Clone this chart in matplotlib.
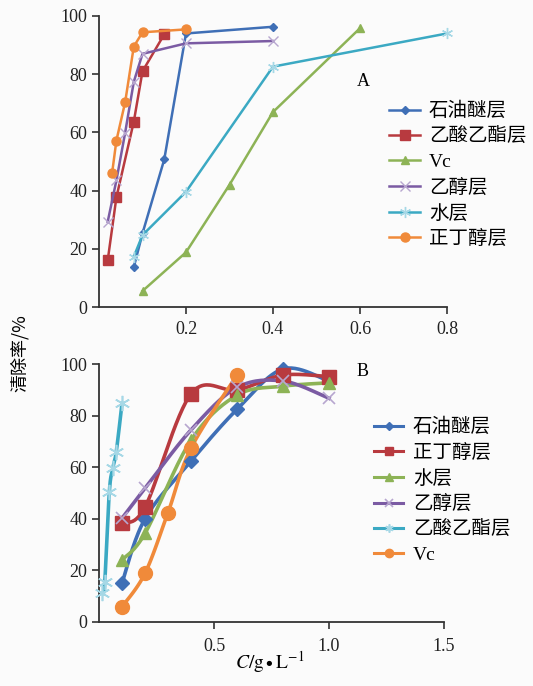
import numpy as np
import matplotlib
matplotlib.use("Agg")
import matplotlib.pyplot as plt
from matplotlib.lines import Line2D

plt.rcParams['font.family'] = ['Liberation Serif', 'Noto Sans CJK SC', 'DejaVu Sans']
plt.rcParams['mathtext.fontset'] = 'stix'

BLUE = '#3F6FB6'
RED = '#B83A3F'
GREEN = '#8DB356'
PURPLE = '#7B5BA3'
TEAL = '#3BA9C3'
ORANGE = '#F08A3A'

# ---------------- Panel A data ----------------
a_pet_x = [0.08, 0.10, 0.15, 0.20, 0.40]
a_pet_y = [13.7, 25.3, 50.7, 94.0, 96.3]
a_ea_x = [0.02, 0.04, 0.08, 0.10, 0.15]
a_ea_y = [16.0, 37.7, 63.7, 81.0, 93.7]
a_vc_x = [0.10, 0.20, 0.30, 0.40, 0.60]
a_vc_y = [5.5, 18.8, 42.0, 67.0, 95.8]
a_eth_x = [0.02, 0.04, 0.06, 0.08, 0.10, 0.20, 0.40]
a_eth_y = [29.3, 43.5, 59.8, 77.4, 87.0, 90.6, 91.4]
a_wat_x = [0.08, 0.10, 0.20, 0.40, 0.80]
a_wat_y = [17.3, 24.7, 39.6, 82.6, 94.0]
a_but_x = [0.03, 0.04, 0.06, 0.08, 0.10, 0.20]
a_but_y = [45.9, 57.2, 70.3, 89.5, 94.4, 95.4]
a_labels = ['石油醚层', '乙酸乙酯层', 'Vc', '乙醇层', '水层', '正丁醇层']

# ---------------- Panel B data ----------------
b_pet_x = [0.1, 0.2, 0.4, 0.6, 0.8, 1.0]
b_pet_y = [15.0, 40.0, 62.4, 82.5, 98.2, 93.5]
b_but_x = [0.1, 0.2, 0.4, 0.6, 0.8, 1.0]
b_but_y = [38.5, 44.5, 88.5, 90.0, 95.8, 95.2]
b_wat_x = [0.1, 0.2, 0.4, 0.6, 0.8, 1.0]
b_wat_y = [24.0, 34.3, 70.5, 88.0, 91.5, 92.8]
b_eth_x = [0.1, 0.2, 0.4, 0.6, 0.8, 1.0]
b_eth_y = [40.2, 51.8, 74.5, 91.0, 93.5, 86.8]
b_ea_x = [0.015, 0.025, 0.045, 0.06, 0.075, 0.10]
b_ea_y = [11.0, 15.5, 50.5, 59.6, 66.0, 84.8]
b_vc_x = [0.1, 0.2, 0.3, 0.4, 0.6]
b_vc_y = [5.8, 18.8, 42.4, 67.4, 95.8]
b_labels = ['石油醚层', '正丁醇层', '水层', '乙醇层', '乙酸乙酯层', 'Vc']

fig = plt.figure(figsize=(5.33, 6.86), dpi=100)
fig.patch.set_facecolor('#fbfbfb')

def style_axes(ax):
    ax.set_facecolor('#fbfbfb')
    for s in ['top', 'right']:
        ax.spines[s].set_visible(False)
    for s in ['left', 'bottom']:
        ax.spines[s].set_color('#333333')
        ax.spines[s].set_linewidth(1.3)
    ax.tick_params(direction='out', length=5, width=1.2, colors='#333333',
                   labelsize=13, labelcolor='#222222')

# ---------------- Panel A ----------------
axA = fig.add_axes([99/533, 1-307/686, 348/533, 291/686])
style_axes(axA)
axA.set_xlim(0, 0.8)
axA.set_ylim(0, 100)
axA.set_xticks([0.2, 0.4, 0.6, 0.8])
axA.set_xticklabels(['0.2', '0.4', '0.6', '0.8'])
axA.set_yticks([0, 20, 40, 60, 80, 100])
axA.tick_params(axis='x', pad=5)

lw = 1.8
axA.plot(a_pet_x, a_pet_y, color=BLUE, lw=lw, marker='D', ms=4.5, label=a_labels[0], clip_on=False, zorder=3)
axA.plot(a_ea_x, a_ea_y, color=RED, lw=lw, marker='s', ms=6.5, label=a_labels[1], clip_on=False, zorder=3)
axA.plot(a_vc_x, a_vc_y, color=GREEN, lw=lw, marker='^', ms=6, label=a_labels[2], clip_on=False, zorder=3)
axA.plot(a_eth_x, a_eth_y, color=PURPLE, lw=lw, marker='x', ms=7, mew=1.0, mec='#b7a6cf', label=a_labels[3], clip_on=False, zorder=3)
axA.plot(a_wat_x, a_wat_y, color=TEAL, lw=lw, marker=(6, 2, 0), ms=8, mew=1.0, mec='#a6d8e6', label=a_labels[4], clip_on=False, zorder=3)
axA.plot(a_but_x, a_but_y, color=ORANGE, lw=lw, marker='o', ms=6.5, label=a_labels[5], clip_on=False, zorder=3)

fig.legend(*axA.get_legend_handles_labels(), loc='upper left',
           bbox_to_anchor=(389/533, 1-102/686), frameon=False, fontsize=14,
           handlelength=1.6, handletextpad=0.45, labelspacing=0.39, borderpad=0,
           borderaxespad=0)
fig.text(363/533, 1-82/686, 'A', fontsize=13, ha='center', va='center')

# ---------------- Panel B ----------------
axB = fig.add_axes([99/533, 1-621.7/686, 345/533, 257.4/686])
style_axes(axB)
axB.set_xlim(0, 1.5)
axB.set_ylim(0, 100)
axB.set_xticks([0.5, 1.0, 1.5])
axB.set_xticklabels(['0.5', '1.0', '1.5'])
axB.set_yticks([0, 20, 40, 60, 80, 100])
axB.tick_params(axis='x', pad=7)

fig.canvas.draw()

def smooth(ax, xs, ys, n=30):
    pts = ax.transData.transform(np.column_stack([xs, ys]))
    P = np.vstack([pts[0], pts, pts[-1]])
    out = []
    t = np.linspace(0, 1, n)[:, None]
    for i in range(1, len(P) - 2):
        p0, p1, p2, p3 = P[i-1], P[i], P[i+1], P[i+2]
        c1 = p1 + (p2 - p0) / 6.0
        c2 = p2 - (p3 - p1) / 6.0
        seg = ((1-t)**3)*p1 + 3*((1-t)**2)*t*c1 + 3*(1-t)*(t**2)*c2 + (t**3)*p2
        out.append(seg)
    curve = np.vstack(out)
    data = ax.transData.inverted().transform(curve)
    return data[:, 0], data[:, 1]

lwb = 2.6
series_b = [
    (b_pet_x, b_pet_y, BLUE, dict(marker='D', ms=7, mfc=BLUE, mec=BLUE)),
    (b_but_x, b_but_y, RED, dict(marker='s', ms=10, mfc=RED, mec=RED)),
    (b_wat_x, b_wat_y, GREEN, dict(marker='^', ms=9, mfc=GREEN, mec=GREEN)),
    (b_eth_x, b_eth_y, PURPLE, dict(marker='x', ms=9, mew=1.2, mec='#b7a6cf')),
    (b_ea_x, b_ea_y, TEAL, dict(marker=(6, 2, 0), ms=11, mew=1.2, mec='#a6d8e6')),
    (b_vc_x, b_vc_y, ORANGE, dict(marker='o', ms=10, mfc=ORANGE, mec=ORANGE)),
]
handles = []
for (xs, ys, col, mk), lab in zip(series_b, b_labels):
    sx, sy = smooth(axB, xs, ys)
    axB.plot(sx, sy, color=col, lw=lwb, clip_on=False, zorder=3)
    axB.plot(xs, ys, ls='none', clip_on=False, zorder=4, **mk)
    hmk = dict(mk)
    hmk['ms'] = 6 if mk['marker'] != 'D' else 4.5
    handles.append(Line2D([0], [0], color=col, lw=2.2, **hmk))

fig.legend(handles, b_labels, loc='upper left',
           bbox_to_anchor=(374/533, 1-418/686), frameon=False, fontsize=14,
           handlelength=1.5, handletextpad=0.5, labelspacing=0.39, borderpad=0,
           borderaxespad=0)
fig.text(363/533, 1-372/686, 'B', fontsize=13, ha='center', va='center')

fig.text(20/533, 1-353/686, '清除率/%', rotation=90, fontsize=13,
         ha='center', va='center', family=['Noto Sans CJK SC', 'DejaVu Sans'])
fig.text(270/533, 1-662/686, r'$C/\mathrm{g}\bullet\mathrm{L}^{-1}$', fontsize=14,
         ha='center', va='center')

fig.savefig('out.png', dpi=100, facecolor=fig.get_facecolor())
